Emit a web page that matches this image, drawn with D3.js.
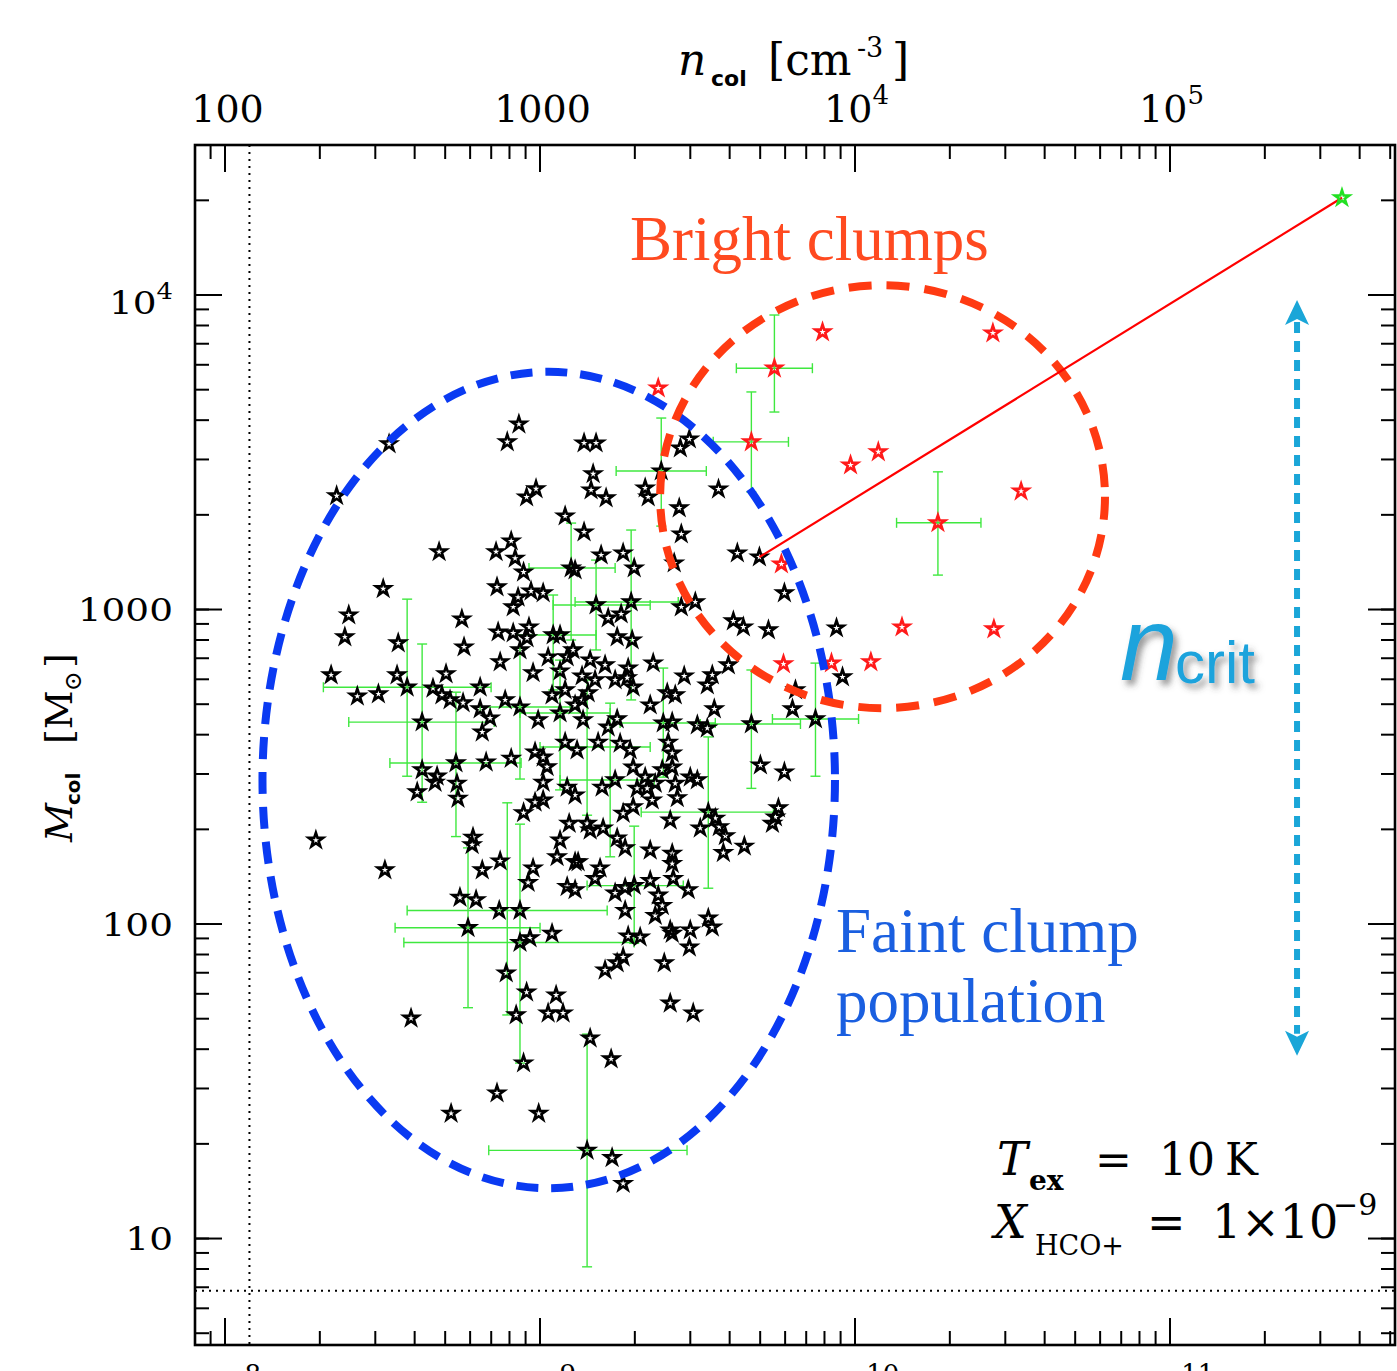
<!DOCTYPE html>
<meta charset="utf-8">
<script src="https://d3js.org/d3.v7.min.js"></script>
<style>
  body { margin: 0; background: #fff; }
  svg text { font-family: "DejaVu Serif", serif; fill: #000; }
</style>
<div id="chart"></div>
<script>

// faint clumps (black stars): [n_col in cm^-3, M_col in Msun]
var faintClumps = [
  [333,3350],[227,2290],[319,1160],[248,957],[241,815],[356,780],[480,1520],[218,617],[195,184],[323,148],[391,50],[524,24.9],[733,28.9],[994,24.9],
  [860,3870],[790,3400],[975,2410],[910,2270],[1206,1975],[1385,3370],[1512,3370],[813,1645],[728,1520],[837,1450],[890,1310],[1260,1350],[733,1175],[940,1140],[1027,1125],[855,1090],[825,1015],[567,929],[576,757],[739,845],[825,839],[926,876],[913,809],[1105,827],[1162,827],[867,741],[750,679],[1065,703],[1224,704],[1278,741],[353,617],[505,622],[954,627],
  [2800,3250],[2990,3470],[1480,2690],[1458,2390],[1627,2255],[2165,2425],[2213,2270],[3700,2405],[2777,2095],[2819,1731],[1385,1757],[1569,1485],[1843,1506],[1998,1350],[2677,1400],[4247,1506],[4990,1463],[5990,1125],[1954,1053],[1512,1030],[2819,1015],[3123,1053],[1652,936],[1816,964],[4125,916],[4438,876],[5330,858],[8767,870],[1764,815],[1969,797],[2296,673],[3976,664],[1912,649],[9160,608],[2435,2746],[1297,1330],
  [380,564],[264,528],[308,537],[459,560],[490,533],[520,514],[572,503],[648,564],[648,481],[697,450],[658,406],[424,437],[778,514],[867,488],[990,444],[1096,533],[1162,467],[1206,377],[1316,356],[968,351],[1027,338],[1057,315],[1027,281],[1224,271],[1297,256],[424,308],[473,294],[466,281],[547,279],[543,324],[551,250],[409,262],[677,326],[813,335],[890,225],[968,243],[1027,247],[1242,208],[1162,184],[1137,163],[1297,157],[1224,131],[1297,128],[615,188],[611,178],[658,148],[750,158],[954,150],[920,135],[559,121],[629,119],[745,110],[867,110],[593,97],[1096,93],[867,87],[933,90],
  [784,69.6],[910,60.5],[1129,59.2],[1065,51.9],[1188,51.9],[843,51.2],[890,36.0],
  [1912,91.2],[2087,90.5],[2638,93],[3010,95.3],[2990,84.1],[2489,74.9],[1843,78.2],[1764,74.9],[1615,71.1],[2600,55.8],[3076,51.9],[1448,43.2],[1688,37.1],[1416,19.0],[1700,18.0],[1843,14.9],
  [2880,612],[3536,617],[3409,573],[6494,553],[6354,481],[7518,447],[4705,431],[5026,319],[5990,303],[3409,418],[3170,428],[3588,481],[2697,533],[2544,541],[2246,495],[2638,437],[2471,434],[1764,447],[1652,421],[1535,377],[1803,374],[1940,356],[1983,314],[2165,292],[2330,279],[2562,377],[2638,348],[2638,314],[2453,308],[2697,279],[2737,251],[3010,292],[3170,286],[2197,269],[2041,269],[1738,286],[1580,271],[2279,247],[1983,235],[1843,224],[2600,213],[3434,226],[3239,201],[3615,216],[3722,203],[3890,190],[3834,168],[4470,176],[5733,233],[5609,218],[5488,208],[1764,187],[1870,174],[2246,171],[2638,167],[2638,155],[1416,208],[1592,201],[1448,198],[1326,157],[1557,150],[1501,139],[2246,137],[2658,139],[2966,128],[1870,130],[1738,125],[2382,123],[2453,114],[2330,106],[1870,110],[2600,95.3],[3434,104],[3536,97.4],[1998,132],
  [1365,612],[1501,595],[1738,595],[1898,604],[1983,564],[1365,514],[1427,541],[1375,444],[1297,495],[1448,688],[1615,664],[1162,635],[1206,553]
];

// bright clumps (red stars)
var brightClumps = [
  [2382,5040],[5568,5830],[7915,7600],[27500,7540],[4705,3400],[9714,2870],[11900,3160],[33800,2370],[18400,1880],[5860,1390],[5950,669],[8450,673],[11270,679],[14150,876],[27700,864]
];

// the single extreme clump (green star) and the line drawn to it
var extremeClump = [[352800, 20300]];
var trendLine = [[4990, 1463], [352800, 20300]];

// error bars: [n, M, nLo, nHi, mLo, mHi]
var errorBars = [
  [380,564,206,702,294,1075],[424,437,248,718,243,774],[543,324,335,874,189,544],[593,97,348,1004,54,174],
  [867,87,371,1998,36,207],[790,110,380,1640,51.2,242],[1416,19,690,2940,8.1,44.5],[2435,2746,1751,3385,1835,4048],
  [3434,226,2103,5528,129.5,392],[7518,447,5488,10300,294,673],[4705,431,3239,6736,269,640],[1998,132,1416,2860,86.5,204],
  [1260,1350,926,1738,797,1876],[1954,1053,1297,2757,514,1783],[1512,1030,1105,2246,741,1431],[1105,827,850,1512,553,1108],
  [867,488,648,1251,288,752],[1162,467,867,1676,266,688],[1676,286,1162,2313,163,502],[1416,364,1004,2246,221,595],
  [2471,434,1803,3615,292,649],
  [5568,5830,4216,7350,4230,8606],[4705,3400,3561,6170,2355,4900],[18400,1880,13600,25200,1282,2730]
];

// axis ranges and ticks
var nDomain = [80.6, 519800];
var mDomain = [4.57, 29880];
var colDomain = [8.06e7, 5.198e11];
var topTicks = [100, 1000, 1e4, 1e5];
var topLabels = [["100", ""], ["1000", ""], ["10", "4"], ["10", "5"]];
var leftTicks = [10, 100, 1000, 1e4];
var leftLabels = [["10", ""], ["100", ""], ["1000", ""], ["10", "4"]];
var bottomTicks = [1e8, 1e9, 1e10, 1e11];
var bottomLabels = [["10", "8"], ["10", "9"], ["10", "10"], ["10", "11"]];

// reference lines and annotation regions
var densityLimit = 120;
var massLimit = 6.8;
var faintRegion = {nLo: 132, nHi: 8670, mLo: 14.4, mHi: 5680};
var brightRegion = {nLo: 2415, nHi: 62400, mLo: 484, mHi: 10700};
var critArrow = {n: 254000, mLo: 38, mHi: 9600};

var W = 1397, H = 1371;
var margin = {top: 145, right: 2, bottom: 26, left: 195},
    width = W - margin.left - margin.right,
    height = H - margin.top - margin.bottom;

var svg = d3.select("#chart").append("svg")
    .attr("width", W)
    .attr("height", H);
svg.append("rect").attr("width", W).attr("height", H).attr("fill", "#fff");

var defs = svg.append("defs");
var shadow = defs.append("filter").attr("id", "shadow")
    .attr("x", "-20%").attr("y", "-20%").attr("width", "160%").attr("height", "160%");
shadow.append("feDropShadow").attr("dx", 4).attr("dy", 5).attr("stdDeviation", 3)
    .attr("flood-color", "#444").attr("flood-opacity", 0.55);
defs.append("clipPath").attr("id", "plotClip")
    .append("rect").attr("width", width).attr("height", height);

var g = svg.append("g")
    .attr("transform", "translate(" + margin.left + "," + margin.top + ")");

var x = d3.scaleLog().domain(nDomain).range([0, width]);
var y = d3.scaleLog().domain(mDomain).range([height, 0]);
var xBottom = d3.scaleLog().domain(colDomain).range([0, width]);

var plot = g.append("g").attr("clip-path", "url(#plotClip)");

// dotted limits
plot.append("line")
    .attr("x1", x(densityLimit)).attr("x2", x(densityLimit))
    .attr("y1", 0).attr("y2", height)
    .attr("stroke", "#000").attr("stroke-width", 2).attr("stroke-dasharray", "2,5");
plot.append("line")
    .attr("x1", 0).attr("x2", width)
    .attr("y1", y(massLimit)).attr("y2", y(massLimit))
    .attr("stroke", "#000").attr("stroke-width", 2).attr("stroke-dasharray", "2,5");

// error bars
var errColor = "#3fe83f";
var cap = 5;
var eb = plot.selectAll(".err").data(errorBars).enter().append("g")
    .attr("stroke", errColor).attr("stroke-width", 1.4);
eb.append("line")
    .attr("x1", function(d) { return x(d[2]); }).attr("x2", function(d) { return x(d[3]); })
    .attr("y1", function(d) { return y(d[1]); }).attr("y2", function(d) { return y(d[1]); });
eb.append("line")
    .attr("x1", function(d) { return x(d[0]); }).attr("x2", function(d) { return x(d[0]); })
    .attr("y1", function(d) { return y(d[4]); }).attr("y2", function(d) { return y(d[5]); });
[2, 3].forEach(function(k) {
  eb.append("line")
      .attr("x1", function(d) { return x(d[k]); }).attr("x2", function(d) { return x(d[k]); })
      .attr("y1", function(d) { return y(d[1]) - cap; }).attr("y2", function(d) { return y(d[1]) + cap; });
});
[4, 5].forEach(function(k) {
  eb.append("line")
      .attr("x1", function(d) { return x(d[0]) - cap; }).attr("x2", function(d) { return x(d[0]) + cap; })
      .attr("y1", function(d) { return y(d[k]); }).attr("y2", function(d) { return y(d[k]); });
});

// stars
var star = d3.symbol().type(d3.symbolStar).size(64);
function drawStars(data, color) {
  plot.append("g").selectAll("path").data(data).enter().append("path")
      .attr("d", star)
      .attr("transform", function(d) { return "translate(" + x(d[0]) + "," + y(d[1]) + ")"; })
      .attr("fill", "none")
      .attr("stroke", color)
      .attr("stroke-width", 2.6);
}
drawStars(faintClumps, "#000");
drawStars(brightClumps, "#ff1a1a");

// dashed regions
function drawRegion(r, color, dash) {
  var x0 = x(r.nLo), x1 = x(r.nHi), y0 = y(r.mHi), y1 = y(r.mLo);
  plot.append("ellipse")
      .attr("cx", (x0 + x1) / 2).attr("cy", (y0 + y1) / 2)
      .attr("rx", (x1 - x0) / 2).attr("ry", (y1 - y0) / 2)
      .attr("fill", "none").attr("stroke", color)
      .attr("stroke-width", 8).attr("stroke-dasharray", dash);
}
drawRegion(faintRegion, "#0a3af2", "22,13");
drawRegion(brightRegion, "#ff3a12", "23,15");

// line to the extreme clump
plot.append("path")
    .datum(trendLine)
    .attr("d", d3.line().x(function(d) { return x(d[0]); }).y(function(d) { return y(d[1]); }))
    .attr("fill", "none").attr("stroke", "#ff0000").attr("stroke-width", 2.2);
drawStars(extremeClump, "#22e022");

// n_crit double arrow
var ax = x(critArrow.n), aTop = y(critArrow.mHi), aBot = y(critArrow.mLo);
var arrowColor = "#1aa6d8";
plot.append("line")
    .attr("x1", ax).attr("x2", ax).attr("y1", aTop + 22).attr("y2", aBot - 22)
    .attr("stroke", arrowColor).attr("stroke-width", 6).attr("stroke-dasharray", "11,8");
plot.append("path")
    .attr("d", "M" + ax + "," + aTop + " l-12,25 l12,-6 l12,6 z")
    .attr("fill", arrowColor);
plot.append("path")
    .attr("d", "M" + ax + "," + aBot + " l-12,-25 l12,6 l12,-6 z")
    .attr("fill", arrowColor);

// annotations
g.append("text").attr("x", 435).attr("y", 115)
    .style("font-family", "'Liberation Serif', serif").attr("font-size", 63)
    .style("fill", "#ff4a20").text("Bright clumps");
g.append("text").attr("x", 641).attr("y", 807)
    .style("font-family", "'Liberation Serif', serif").attr("font-size", 63)
    .style("fill", "#1a5fe0").text("Faint clump");
g.append("text").attr("x", 641).attr("y", 877)
    .style("font-family", "'Liberation Serif', serif").attr("font-size", 63)
    .style("fill", "#1a5fe0").text("population");

var crit = g.append("text").attr("filter", "url(#shadow)")
    .style("font-family", "'Liberation Sans', sans-serif").style("fill", "#1ba3dc");
crit.append("tspan").attr("x", 925).attr("y", 535).attr("font-size", 104)
    .style("font-style", "italic").text("n");
crit.append("tspan").attr("x", 980).attr("y", 538).attr("font-size", 60).text("crit");

var tex = g.append("text").attr("font-size", 44);
tex.append("tspan").attr("x", 802).attr("y", 1030).attr("font-size", 46).style("font-style", "italic").text("T");
tex.append("tspan").attr("x", 834).attr("y", 1045).attr("font-size", 28).style("font-weight", "bold").text("ex");
tex.append("tspan").attr("x", 900).attr("y", 1030).text("=");
tex.append("tspan").attr("x", 964).attr("y", 1030).text("10");
tex.append("tspan").attr("x", 1030).attr("y", 1030).text("K");

var xh = g.append("text").attr("font-size", 46);
xh.append("tspan").attr("x", 799).attr("y", 1093).style("font-style", "italic").text("X");
xh.append("tspan").attr("x", 840).attr("y", 1110).attr("font-size", 27).text("HCO+");
xh.append("tspan").attr("x", 952).attr("y", 1093).text("=");
xh.append("tspan").attr("x", 1017).attr("y", 1093).text("1\u00d710");
xh.append("tspan").attr("x", 1138).attr("y", 1070).attr("font-size", 30).text("\u22129");

// axes: minor ticks then major ticks, all pointing inward
function styleAxis(sel) {
  sel.select(".domain").remove();
  sel.selectAll(".tick line").attr("stroke", "#000").attr("stroke-width", 2);
}
g.append("g").call(d3.axisTop(x).tickValues(x.ticks()).tickSize(-14).tickFormat("")).call(styleAxis);
g.append("g").call(d3.axisTop(x).tickValues(topTicks).tickSize(-27).tickFormat("")).call(styleAxis);
g.append("g").attr("transform", "translate(0," + height + ")")
    .call(d3.axisBottom(xBottom).tickValues(xBottom.ticks()).tickSize(-14).tickFormat("")).call(styleAxis);
g.append("g").attr("transform", "translate(0," + height + ")")
    .call(d3.axisBottom(xBottom).tickValues(bottomTicks).tickSize(-27).tickFormat("")).call(styleAxis);
g.append("g").call(d3.axisLeft(y).tickValues(y.ticks()).tickSize(-14).tickFormat("")).call(styleAxis);
g.append("g").call(d3.axisLeft(y).tickValues(leftTicks).tickSize(-27).tickFormat("")).call(styleAxis);
g.append("g").attr("transform", "translate(" + width + ",0)")
    .call(d3.axisRight(y).tickValues(y.ticks()).tickSize(-14).tickFormat("")).call(styleAxis);
g.append("g").attr("transform", "translate(" + width + ",0)")
    .call(d3.axisRight(y).tickValues(leftTicks).tickSize(-27).tickFormat("")).call(styleAxis);

g.append("rect").attr("width", width).attr("height", height)
    .attr("fill", "none").attr("stroke", "#000").attr("stroke-width", 2.6);

// tick labels
function powText(sel, lab, expSize, rise) {
  sel.append("tspan").text(lab[0]);
  if (lab[1]) sel.append("tspan").attr("font-size", expSize).attr("dy", -rise).text(lab[1]);
}
topTicks.forEach(function(v, i) {
  var t = g.append("text").attr("x", x(v) + (topLabels[i][1] ? 2 : 3)).attr("y", -23)
      .attr("text-anchor", "middle").attr("font-size", 38);
  powText(t, topLabels[i], 26, 18);
});
// bottom labels sit mostly below the picture edge, as in the original figure
bottomTicks.forEach(function(v, i) {
  var t = g.append("text").attr("x", xBottom(v) + 4).attr("y", height + 57)
      .attr("text-anchor", "middle").attr("font-size", 38);
  powText(t, bottomLabels[i], 26, 19);
});
leftTicks.forEach(function(v, i) {
  var lab = leftLabels[i];
  var t = g.append("g")
      .attr("transform", "translate(-22," + (y(v) + (lab[1] ? 19 : 12)) + ") scale(1.17,1)")
      .append("text").attr("text-anchor", "end").attr("font-size", 32);
  powText(t, lab, 22, 15);
});

// axis titles
var topTitle = svg.append("text").attr("font-size", 44);
topTitle.append("tspan").attr("x", 678).attr("y", 75).style("font-style", "italic").text("n");
topTitle.append("tspan").attr("x", 711).attr("y", 86).attr("font-size", 22)
    .style("font-family", "'DejaVu Sans', sans-serif").style("font-weight", "bold").text("col");
topTitle.append("tspan").attr("x", 768).attr("y", 75).text("[cm");
topTitle.append("tspan").attr("x", 857).attr("y", 57).attr("font-size", 27).text("-3");
topTitle.append("tspan").attr("x", 892).attr("y", 75).text("]");

var leftTitle = svg.append("g").attr("transform", "translate(72,750) rotate(-90)")
    .append("text").attr("font-size", 38);
leftTitle.append("tspan").attr("x", -92).attr("y", 0).style("font-style", "italic").text("M");
leftTitle.append("tspan").attr("x", -55).attr("y", 8).attr("font-size", 20)
    .style("font-family", "'DejaVu Sans', sans-serif").style("font-weight", "bold").text("col");
leftTitle.append("tspan").attr("x", 6).attr("y", 0).text("[M");
leftTitle.append("tspan").attr("x", 59).attr("y", 9).attr("font-size", 24).text("\u2299");
leftTitle.append("tspan").attr("x", 82).attr("y", 0).text("]");

</script>
